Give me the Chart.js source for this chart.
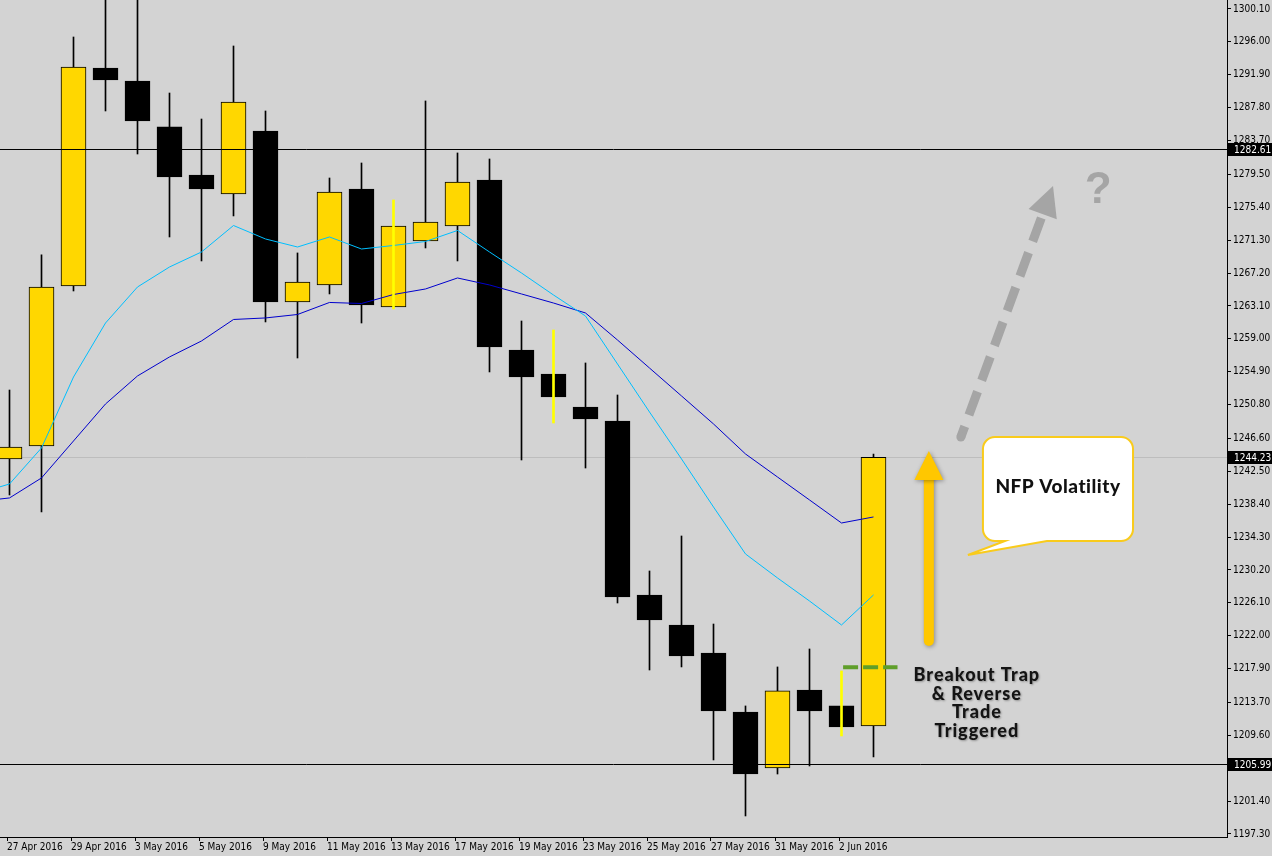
<!DOCTYPE html>
<html>
<head>
<meta charset="utf-8">
<script src="https://cdn.jsdelivr.net/npm/chart.js@4.4.1/dist/chart.umd.min.js"></script>
<style>
  html, body { margin: 0; padding: 0; background: #d3d3d3; overflow: hidden; }
  #wrap { position: relative; width: 1272px; height: 856px; }
</style>
</head>
<body>
<div id="wrap"><canvas id="c" width="1272" height="856"></canvas></div>
<script>
// Daily XAUUSD candles, 27 Apr - 3 Jun 2016
const dates = ['27 Apr 2016','28 Apr 2016','29 Apr 2016','2 May 2016','3 May 2016','4 May 2016','5 May 2016',
  '6 May 2016','9 May 2016','10 May 2016','11 May 2016','12 May 2016','13 May 2016','16 May 2016','17 May 2016',
  '18 May 2016','19 May 2016','20 May 2016','23 May 2016','24 May 2016','25 May 2016','26 May 2016','27 May 2016',
  '30 May 2016','31 May 2016','1 Jun 2016','2 Jun 2016','3 Jun 2016'];
const opens  = [1244.03,1245.65,1265.58,1292.75,1291.13,1285.40,1279.41,1277.05,1284.90,1263.59,1265.71,1277.67,1262.97,1271.19,
  1273.06,1278.79,1257.61,1254.62,1250.50,1248.76,1227.08,1223.34,1219.85,1212.50,1205.52,1215.24,1213.25,1210.75];
const highs  = [1252.62,1269.45,1296.61,1303.00,1305.00,1289.63,1286.39,1295.49,1287.39,1269.70,1279.04,1280.91,1276.30,1288.64,
  1282.16,1281.41,1261.22,1260.10,1255.99,1252.00,1230.07,1234.43,1223.46,1213.25,1218.11,1220.35,1217.61,1244.65];
const lows   = [1239.54,1237.42,1264.96,1287.39,1282.03,1271.69,1268.70,1274.31,1261.10,1256.61,1264.59,1260.97,1262.72,1270.32,
  1268.70,1254.87,1243.90,1248.51,1242.90,1226.08,1217.73,1218.11,1206.52,1199.54,1204.77,1205.77,1209.51,1206.89];
const closes = [1245.52,1265.46,1292.87,1291.25,1286.14,1279.17,1277.67,1288.51,1263.59,1266.08,1277.30,1263.21,1273.06,1273.56,
  1278.54,1257.98,1254.24,1251.75,1249.01,1226.83,1223.96,1219.48,1212.62,1204.77,1215.12,1212.62,1210.63,1244.23];
// Days whose shadow is painted in bright yellow
const yellowShadowDays = ['13 May 2016','20 May 2016','2 Jun 2016'];

// Moving averages, first value belongs to 26 Apr 2016 (one bar before the first candle)
const maFast = [1239.72,1240.91,1245.40,1254.24,1260.97,1265.46,1267.95,1269.82,1273.12,1271.44,1270.44,1271.69,1270.19,1270.63,
  1271.13,1272.50,1269.82,1267.20,1264.46,1261.84,1255.86,1249.88,1244.03,1238.04,1232.19,1229.20,1226.33,1223.34,1227.08];
const maSlow = [1238.72,1239.17,1241.66,1246.27,1250.88,1254.37,1256.74,1258.73,1261.41,1261.60,1262.03,1263.53,1263.40,1264.52,
  1265.21,1266.58,1265.71,1264.59,1263.46,1262.22,1258.85,1255.36,1251.88,1248.39,1244.65,1241.78,1238.92,1236.05,1236.80];

// Price scale labels
const priceTicks = [1300.10,1296.00,1291.90,1287.80,1283.70,1279.50,1275.40,1271.30,1267.20,1263.10,1259.00,1254.90,1250.80,
  1246.60,1242.50,1238.40,1234.30,1230.20,1226.10,1222.00,1217.90,1213.70,1209.60,1205.50,1201.40,1197.30];

// Horizontal levels
const resistanceLevel = 1282.61;
const supportLevel = 1205.99;
const bidLevel = 1244.23;
const triggerLevel = 1218.07;

const UI_FONT = '"DejaVu Sans Condensed", "DejaVu Sans", sans-serif';
const BULL = '#ffd700', BEAR = '#000000';

const idx = dates.map((d, i) => i);
const bodies = idx.map(i => ({ x: i, y: [opens[i], closes[i]] }));
const shadows = idx.filter(i => !yellowShadowDays.includes(dates[i])).map(i => ({ x: i, y: [lows[i], highs[i]] }));
const yellowShadows = idx.filter(i => yellowShadowDays.includes(dates[i])).map(i => ({ x: i, y: [lows[i], highs[i]] }));
const fastPts = maFast.map((v, k) => ({ x: k - 1, y: v }));
const slowPts = maSlow.map((v, k) => ({ x: k - 1, y: v }));

const bgPlugin = {
  id: 'bg',
  beforeDraw(chart) {
    const c = chart.ctx;
    c.save(); c.fillStyle = '#d3d3d3'; c.fillRect(0, 0, chart.width, chart.height); c.restore();
  }
};

function hLine(chart, price, color) {
  const { ctx, chartArea, scales } = chart;
  const y = Math.round(scales.y.getPixelForValue(price)) + 0.5;
  ctx.save();
  ctx.strokeStyle = color; ctx.lineWidth = 1;
  ctx.beginPath(); ctx.moveTo(chartArea.left, y); ctx.lineTo(chartArea.right, y); ctx.stroke();
  ctx.restore();
}

function priceBox(chart, price) {
  const { ctx, chartArea, scales } = chart;
  const y = Math.round(scales.y.getPixelForValue(price));
  ctx.save();
  ctx.fillStyle = '#000';
  ctx.fillRect(chartArea.right + 1, y - 6, 44, 13);
  ctx.fillStyle = '#fff';
  ctx.font = '10px ' + UI_FONT;
  ctx.textBaseline = 'middle';
  ctx.textAlign = 'left';
  ctx.fillText(price.toFixed(2), chartArea.right + 7, y + 1);
  ctx.restore();
}

const overlayPlugin = {
  id: 'overlay',
  beforeDatasetsDraw(chart) {
    hLine(chart, bidLevel, '#bdbdbd');
  },
  afterDatasetsDraw(chart) {
    const { ctx, scales } = chart;
    const X = v => scales.x.getPixelForValue(v), Y = v => scales.y.getPixelForValue(v);
    hLine(chart, resistanceLevel, '#000');
    hLine(chart, supportLevel, '#000');

    // trigger level, dashed green
    ctx.save();
    ctx.strokeStyle = '#5f9e2a'; ctx.lineWidth = 4; ctx.setLineDash([15, 5]);
    ctx.beginPath(); ctx.moveTo(X(26.05), Y(triggerLevel)); ctx.lineTo(X(27.75), Y(triggerLevel)); ctx.stroke();
    ctx.restore();
  },
  afterDraw(chart) {
    const { ctx, scales } = chart;
    const X = v => scales.x.getPixelForValue(v), Y = v => scales.y.getPixelForValue(v);

    priceBox(chart, resistanceLevel);
    priceBox(chart, bidLevel);
    priceBox(chart, supportLevel);

    // yellow up arrow
    {
      const ax = X(28.73), yb = Y(1221.35), yt = Y(1245.02), headLen = 29, headHalf = 14.5;
      ctx.save();
      ctx.shadowColor = 'rgba(0,0,0,0.35)'; ctx.shadowBlur = 4; ctx.shadowOffsetX = 1; ctx.shadowOffsetY = 1;
      ctx.strokeStyle = '#ffc700'; ctx.fillStyle = '#ffc700'; ctx.lineWidth = 10; ctx.lineCap = 'round';
      ctx.beginPath(); ctx.moveTo(ax, yb); ctx.lineTo(ax, yt + headLen - 2); ctx.stroke();
      ctx.beginPath(); ctx.moveTo(ax, yt); ctx.lineTo(ax + headHalf, yt + headLen); ctx.lineTo(ax - headHalf, yt + headLen); ctx.closePath(); ctx.fill();
      ctx.restore();
    }

    // grey dashed projection arrow
    {
      const x0 = X(29.73), y0 = Y(1246.77), x1 = X(32.61), y1 = Y(1278.04);
      const dx = x1 - x0, dy = y1 - y0, len = Math.hypot(dx, dy), ux = dx / len, uy = dy / len;
      const headLen = 30, headHalf = 15;
      const bx = x1 - ux * headLen, by = y1 - uy * headLen;
      ctx.save();
      ctx.strokeStyle = '#a5a5a5'; ctx.fillStyle = '#a5a5a5'; ctx.lineWidth = 9; ctx.lineCap = 'butt';
      ctx.setLineDash([25, 12]);
      ctx.beginPath(); ctx.moveTo(bx - ux * 4, by - uy * 4); ctx.lineTo(x0, y0); ctx.stroke();
      ctx.setLineDash([]);
      ctx.beginPath(); ctx.arc(x0, y0, 4.5, 0, Math.PI * 2); ctx.fill();
      ctx.beginPath(); ctx.moveTo(x1, y1);
      ctx.lineTo(bx - uy * headHalf, by + ux * headHalf);
      ctx.lineTo(bx + uy * headHalf, by - ux * headHalf);
      ctx.closePath(); ctx.fill();
      ctx.font = 'bold 44px "Liberation Sans", Arial, sans-serif';
      ctx.textAlign = 'center'; ctx.textBaseline = 'middle';
      ctx.fillText('?', X(34.02), Y(1277.67) + 2);
      ctx.restore();
    }

    // callout box
    {
      const l = X(30.42), r = X(35.11), t = Y(1246.77), b = Y(1233.81), rad = 12;
      const tipX = X(29.95), tipY = Y(1232.06), baseL = X(31.11), baseR = X(32.42);
      ctx.save();
      ctx.beginPath();
      ctx.moveTo(l + rad, t);
      ctx.lineTo(r - rad, t); ctx.arcTo(r, t, r, t + rad, rad);
      ctx.lineTo(r, b - rad); ctx.arcTo(r, b, r - rad, b, rad);
      ctx.lineTo(baseR, b); ctx.lineTo(tipX, tipY); ctx.lineTo(baseL, b);
      ctx.lineTo(l + rad, b); ctx.arcTo(l, b, l, b - rad, rad);
      ctx.lineTo(l, t + rad); ctx.arcTo(l, t, l + rad, t, rad);
      ctx.closePath();
      ctx.fillStyle = '#ffffff'; ctx.fill();
      ctx.strokeStyle = '#f9cb1c'; ctx.lineWidth = 2; ctx.stroke();
      ctx.fillStyle = '#111';
      ctx.font = '900 19px Lato, "Open Sans", sans-serif';
      ctx.letterSpacing = '0.5px';
      ctx.textAlign = 'center'; ctx.textBaseline = 'middle';
      ctx.fillText('NFP Volatility', (l + r) / 2, (t + b) / 2 - 2);
      ctx.restore();
    }

    // trade note
    {
      const cx = X(30.23), y0 = Y(1217.11);
      const lines = ['Breakout Trap', '& Reverse', 'Trade', 'Triggered'];
      ctx.save();
      ctx.font = '900 18px Lato, "Open Sans", sans-serif';
      ctx.letterSpacing = '1px';
      ctx.textAlign = 'center'; ctx.textBaseline = 'middle';
      ctx.shadowColor = 'rgba(0,0,0,0.3)'; ctx.shadowBlur = 2; ctx.shadowOffsetX = 1; ctx.shadowOffsetY = 1;
      ctx.fillStyle = '#141414';
      lines.forEach((s, k) => ctx.fillText(s, cx, y0 + k * 18.8));
      ctx.restore();
    }
  }
};

Chart.defaults.font.family = UI_FONT;
Chart.defaults.font.size = 10;
Chart.defaults.color = '#000';

new Chart(document.getElementById('c'), {
  type: 'bar',
  data: {
    datasets: [
      { type: 'bar', label: 'Shadow (yellow)', data: yellowShadows, backgroundColor: '#ffff00', borderWidth: 0,
        barThickness: 2, grouped: false, order: 0 },
      { type: 'line', label: 'MA fast', data: fastPts, borderColor: '#00bfff', borderWidth: 1, pointRadius: 0,
        tension: 0, order: 1 },
      { type: 'line', label: 'MA slow', data: slowPts, borderColor: '#0000cd', borderWidth: 1, pointRadius: 0,
        tension: 0, order: 2 },
      { type: 'bar', label: 'Body', data: bodies,
        backgroundColor: ctx => (closes[ctx.dataIndex] >= opens[ctx.dataIndex] ? BULL : BEAR),
        borderColor: '#000', borderWidth: 1, borderSkipped: false, barThickness: 25, grouped: false, order: 3 },
      { type: 'bar', label: 'Shadow', data: shadows, backgroundColor: '#000', borderWidth: 0,
        barThickness: 1, grouped: false, order: 4 }
    ]
  },
  options: {
    responsive: false,
    animation: false,
    events: [],
    layout: { padding: 0 },
    plugins: { legend: { display: false }, tooltip: { enabled: false } },
    scales: {
      x: {
        type: 'linear', position: 'bottom', offset: false,
        min: -9.5 / 32, max: (1227 - 9.5) / 32,
        grid: { offset: false, drawOnChartArea: false, drawTicks: true, tickLength: 4, color: '#000' },
        border: { display: true, color: '#000', width: 1 },
        afterBuildTicks: s => { s.ticks = idx.filter(i => i % 2 === 0).map(i => ({ value: i - 2.5 / 32 })); },
        afterFit: s => { s.height = 19; s.paddingLeft = 0; s.paddingRight = 0; },
        ticks: {
          autoSkip: false, maxRotation: 0, minRotation: 0, align: 'start', padding: 0,
          font: { size: 10, family: UI_FONT },
          callback: v => dates[Math.round(v)] || ''
        }
      },
      y: {
        type: 'linear', position: 'right',
        min: 1196.92, max: 1301.22,
        grid: { drawOnChartArea: false, drawTicks: true, tickLength: 4, color: '#000' },
        border: { display: true, color: '#000', width: 1 },
        afterBuildTicks: s => { s.ticks = priceTicks.map(v => ({ value: v })); },
        afterFit: s => { s.width = 45; s.paddingTop = 0; s.paddingBottom = 0; },
        ticks: { padding: 2, font: { size: 10, family: UI_FONT }, callback: v => Number(v).toFixed(2) }
      }
    }
  },
  plugins: [bgPlugin, overlayPlugin]
});
</script>
</body>
</html>
